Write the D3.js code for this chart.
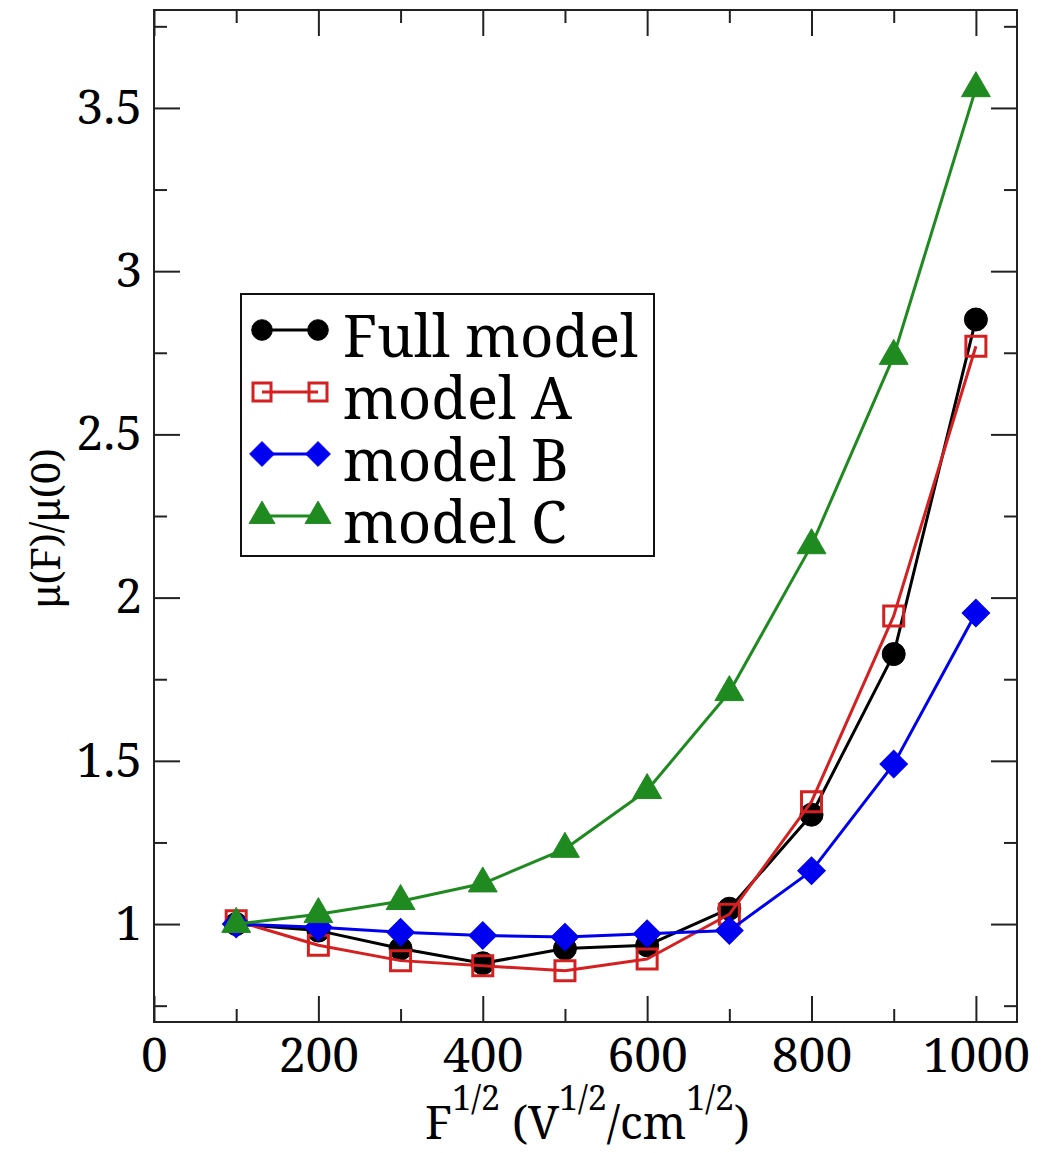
<!DOCTYPE html>
<html>
<head>
<meta charset="utf-8">
<script src="https://cdn.jsdelivr.net/npm/d3@7"></script>
<style>
  html, body { margin: 0; padding: 0; background: #fff; }
  svg { display: block; }
</style>
</head>
<body>
<svg id="chart" width="1041" height="1153"></svg>
<script>
// Field values, F^(1/2) in V^(1/2)/cm^(1/2)
const fieldRoot = [100, 200, 300, 400, 500, 600, 700, 800, 900, 1000];

// Normalised mobility mu(F)/mu(0) for each model
const fullModel = [1.00, 0.98, 0.925, 0.88, 0.925, 0.935, 1.047, 1.335, 1.827, 2.852];
const modelA    = [1.01, 0.935, 0.888, 0.872, 0.857, 0.893, 1.03, 1.375, 1.944, 2.77];
const modelB    = [1.00, 0.99, 0.975, 0.965, 0.96, 0.97, 0.98, 1.163, 1.49, 1.953];
const modelC    = [1.00, 1.03, 1.07, 1.124, 1.23, 1.41, 1.71, 2.16, 2.74, 3.56];

const seriesNames = ["Full model", "model A", "model B", "model C"];

// Axis ticks
const xMajorTicks = [0, 200, 400, 600, 800, 1000];
const xMinorTicks = [100, 300, 500, 700, 900];
const yMajorTicks = [1, 1.5, 2, 2.5, 3, 3.5];
const yMinorTicks = [0.75, 1.25, 1.75, 2.25, 2.75, 3.25, 3.75];
const yTickLabels = ["1", "1.5", "2", "2.5", "3", "3.5"];

const series = [
  { name: seriesNames[0], values: fullModel, color: "#000000", symbol: "circle" },
  { name: seriesNames[1], values: modelA,    color: "#d42020", symbol: "square" },
  { name: seriesNames[2], values: modelB,    color: "#0000f0", symbol: "diamond" },
  { name: seriesNames[3], values: modelC,    color: "#1f8a1f", symbol: "triangle" }
];

const SERIF = "'Noto Serif', 'Liberation Serif', 'Times New Roman', Times, 'DejaVu Serif', serif";

const svg = d3.select("#chart").style("font-family", SERIF);
const plot = { left: 154, right: 1017, top: 10, bottom: 1022 };

const x = d3.scaleLinear().domain([0, 1050]).range([plot.left, plot.right]);
const y = d3.scaleLinear().domain([0.7, 3.8]).range([plot.bottom, plot.top]);

const MAJOR = 26, MINOR = 13;
const tickFont = 48;

function styleAxis(g) {
  g.attr("font-family", null).attr("font-size", null);
  g.select(".domain").remove();
  g.selectAll(".tick line").attr("stroke", "#222").attr("stroke-width", 2);
  g.selectAll(".tick text")
    .style("font-family", SERIF)
    .style("font-size", tickFont + "px").attr("fill", "#000");
}

// Bottom axis (labels) and inward ticks on all four sides
svg.append("g").attr("transform", `translate(0,${plot.bottom})`)
  .call(d3.axisBottom(x).tickValues(xMajorTicks).tickSize(-MAJOR).tickPadding(16).tickFormat(d3.format("d")))
  .call(styleAxis);
svg.append("g").attr("transform", `translate(0,${plot.bottom})`)
  .call(d3.axisBottom(x).tickValues(xMinorTicks).tickSize(-MINOR).tickFormat(""))
  .call(styleAxis);
svg.append("g").attr("transform", `translate(0,${plot.top})`)
  .call(d3.axisTop(x).tickValues(xMajorTicks).tickSize(-MAJOR).tickFormat(""))
  .call(styleAxis);
svg.append("g").attr("transform", `translate(0,${plot.top})`)
  .call(d3.axisTop(x).tickValues(xMinorTicks).tickSize(-MINOR).tickFormat(""))
  .call(styleAxis);

svg.append("g").attr("transform", `translate(${plot.left},0)`)
  .call(d3.axisLeft(y).tickValues(yMajorTicks).tickSize(-MAJOR).tickPadding(12)
    .tickFormat((d, i) => yTickLabels[i]))
  .call(styleAxis);
svg.append("g").attr("transform", `translate(${plot.left},0)`)
  .call(d3.axisLeft(y).tickValues(yMinorTicks).tickSize(-MINOR).tickFormat(""))
  .call(styleAxis);
svg.append("g").attr("transform", `translate(${plot.right},0)`)
  .call(d3.axisRight(y).tickValues(yMajorTicks).tickSize(-MAJOR).tickFormat(""))
  .call(styleAxis);
svg.append("g").attr("transform", `translate(${plot.right},0)`)
  .call(d3.axisRight(y).tickValues(yMinorTicks).tickSize(-MINOR).tickFormat(""))
  .call(styleAxis);

// Frame
svg.append("rect")
  .attr("x", plot.left).attr("y", plot.top)
  .attr("width", plot.right - plot.left).attr("height", plot.bottom - plot.top)
  .attr("fill", "none").attr("stroke", "#222").attr("stroke-width", 2);

// Marker shapes
const symbolGen = {
  circle:   d3.symbol().type(d3.symbolCircle).size(Math.PI * 11.5 * 11.5),
  square:   d3.symbol().type(d3.symbolSquare).size(20 * 20),
  diamond:  d3.symbol().type(d3.symbolSquare).size(19.5 * 19.5),
  triangle: d3.symbol().type(d3.symbolTriangle).size(360)
};

function drawMarker(g, s, cx, cy, scale) {
  const k = scale || 1;
  const p = g.append("path")
    .attr("d", symbolGen[s.symbol]())
    .attr("transform", `translate(${cx},${cy}) scale(${k})` + (s.symbol === "diamond" ? " rotate(45)" : ""));
  if (s.symbol === "square") {
    p.attr("fill", "none").attr("stroke", s.color).attr("stroke-width", 3 / k);
  } else {
    p.attr("fill", s.color).attr("stroke", s.color).attr("stroke-width", 1);
  }
}

const line = d3.line().x(d => x(d[0])).y(d => y(d[1]));

const dataG = svg.append("g");
series.forEach(s => {
  const pts = fieldRoot.map((f, i) => [f, s.values[i]]);
  const g = dataG.append("g");
  g.append("path").datum(pts)
    .attr("d", line)
    .attr("fill", "none").attr("stroke", s.color).attr("stroke-width", 3)
    .attr("stroke-linejoin", "round");
  pts.forEach(p => drawMarker(g, s, x(p[0]), y(p[1])));
});

// Legend
const legend = svg.append("g");
legend.append("rect")
  .attr("x", 241).attr("y", 294).attr("width", 413).attr("height", 262)
  .attr("fill", "#fff").attr("stroke", "#111").attr("stroke-width", 2);
series.forEach((s, i) => {
  const base = 357 + i * 62;
  const cy = base - 27;
  legend.append("line")
    .attr("x1", 262).attr("x2", 318).attr("y1", cy).attr("y2", cy)
    .attr("stroke", s.color).attr("stroke-width", 3);
  drawMarker(legend, s, 262, cy, 0.9);
  drawMarker(legend, s, 318, cy, 0.9);
  legend.append("text")
    .attr("x", 343).attr("y", base)
    .style("font-family", SERIF)
    .style("font-size", "58px")
    .text(s.name);
});

// Axis titles
const xTitle = svg.append("text")
  .attr("x", (plot.left + plot.right) / 2 + 2).attr("y", 1139)
  .attr("text-anchor", "middle")
  .style("font-family", SERIF)
  .style("font-size", "46px");
xTitle.append("tspan").text("F");
xTitle.append("tspan").attr("dy", -29).style("font-size", "34px").text("1/2");
xTitle.append("tspan").attr("dy", 29).text(" (V");
xTitle.append("tspan").attr("dy", -29).style("font-size", "34px").text("1/2");
xTitle.append("tspan").attr("dy", 29).text("/cm");
xTitle.append("tspan").attr("dy", -29).style("font-size", "34px").text("1/2");
xTitle.append("tspan").attr("dy", 29).text(")");

svg.append("text")
  .attr("transform", "translate(60,528) rotate(-90)")
  .attr("text-anchor", "middle")
  .style("font-family", SERIF)
  .style("font-size", "40px")
  .text("μ(F)/μ(0)");
</script>
</body>
</html>
